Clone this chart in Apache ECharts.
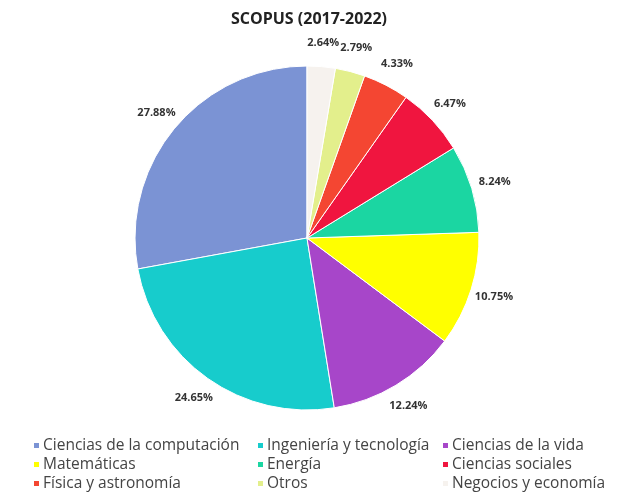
<!DOCTYPE html>
<html>
<head>
<meta charset="utf-8">
<script src="https://cdn.jsdelivr.net/npm/echarts@6/dist/echarts.min.js"></script>
<style>
html, body { margin: 0; padding: 0; background: #fff; }
#chart { width: 618px; height: 498px; }
</style>
</head>
<body>
<div id="chart"></div>
<script>
var categories = ['Ciencias de la computación', 'Ingeniería y tecnología', 'Ciencias de la vida',
  'Matemáticas', 'Energía', 'Ciencias sociales', 'Física y astronomía', 'Otros', 'Negocios y economía'];
var values = [27.88, 24.65, 12.24, 10.75, 8.24, 6.47, 4.33, 2.79, 2.64];
var colors = ['#7b93d4', '#17cccc', '#a746c9', '#ffff00', '#1bd6a2', '#f0153f', '#f44632', '#e3ef8c', '#f6f2ee'];

var legendCols = [
  [categories[0], categories[3], categories[6]],
  [categories[1], categories[4], categories[7]],
  [categories[2], categories[5], categories[8]]
];
var legendX = [32, 256, 441];

var chart = echarts.init(document.getElementById('chart'));

var legends = legendCols.map(function (col, i) {
  return {
    data: col,
    orient: 'vertical',
    left: legendX[i],
    top: 437,
    height: 61,
    padding: 0,
    itemWidth: 7,
    itemHeight: 7,
    itemGap: 2,
    icon: 'rect',
    selectedMode: false,
    textStyle: { fontFamily: 'Open Sans', fontSize: 15.5, lineHeight: 17, color: '#444', padding: [0, 0, 0, -2] }
  };
});

var pieData = categories.map(function (c, i) { return { name: c, value: values[i] }; });

chart.setOption({
  animation: false,
  color: colors,
  title: {
    text: 'SCOPUS (2017-2022)',
    left: 'center',
    top: 6,
    textStyle: { fontFamily: 'Open Sans', fontSize: 16, fontWeight: 'bold', color: '#222' }
  },
  legend: legends,
  series: [{
    type: 'pie',
    center: [307, 238],
    radius: 172,
    startAngle: 90,
    clockwise: false,
    data: pieData,
    itemStyle: { borderColor: '#fff', borderWidth: 1 },
    label: { show: false },
    labelLine: { show: false }
  }, {
    // transparent ring that only carries the percentage labels, centred outside the pie
    type: 'pie',
    center: [307, 238],
    radius: [172, 214],
    startAngle: 90,
    clockwise: false,
    silent: true,
    data: pieData,
    itemStyle: { color: 'rgba(0,0,0,0)' },
    emphasis: { disabled: true },
    label: {
      show: true,
      position: 'inside',
      formatter: function (p) { return p.value.toFixed(2) + '%'; },
      fontFamily: 'Open Sans',
      fontSize: 11,
      fontWeight: 'bold',
      color: '#333'
    },
    labelLine: { show: false }
  }]
});
</script>
</body>
</html>
